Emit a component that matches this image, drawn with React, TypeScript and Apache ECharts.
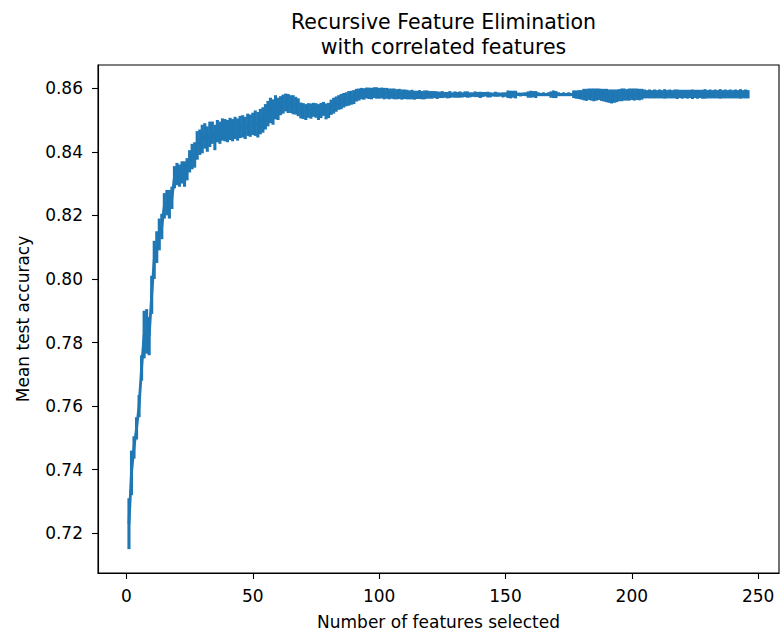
import React, { useEffect, useRef } from "react";
import * as echarts from "echarts";

// Mean test accuracy for 1..246 selected features
const meanAcc: number[] = [
  0.7230, 0.7390, 0.7470, 0.7530, 0.7600, 0.7720, 0.7825, 0.7835, 0.7820, 0.7950,
  0.8060, 0.8100, 0.8140, 0.8165, 0.8230, 0.8240, 0.8235, 0.8255, 0.8320, 0.8330,
  0.8325, 0.8335, 0.8330, 0.8345, 0.8370, 0.8385, 0.8390, 0.8420, 0.8430, 0.8440,
  0.8450, 0.8440, 0.8455, 0.8460, 0.8445, 0.8465, 0.8460, 0.8470, 0.8468, 0.8465,
  0.8472, 0.8468, 0.8475, 0.8470, 0.8478, 0.8480, 0.8475, 0.8485, 0.8482, 0.8488,
  0.8490, 0.8485, 0.8495, 0.8500, 0.8510, 0.8520, 0.8530, 0.8525, 0.8540, 0.8535,
  0.8545, 0.8550, 0.8555, 0.8552, 0.8550, 0.8548, 0.8545, 0.8540, 0.8530, 0.8528,
  0.8525, 0.8530, 0.8528, 0.8532, 0.8530, 0.8525, 0.8530, 0.8535, 0.8527, 0.8530,
  0.8540, 0.8545, 0.8550, 0.8555, 0.8558, 0.8562, 0.8565, 0.8568, 0.8570, 0.8572,
  0.8578, 0.8580, 0.8583, 0.8582, 0.8585, 0.8584, 0.8583, 0.8586, 0.8585, 0.8584,
  0.8585, 0.8583, 0.8584, 0.8582, 0.8583, 0.8582, 0.8581, 0.8582, 0.8580, 0.8581,
  0.8580, 0.8579, 0.8580, 0.8578, 0.8579, 0.8580, 0.8578, 0.8579, 0.8580, 0.8579,
  0.8579, 0.8580, 0.8578, 0.8579, 0.8580, 0.8579, 0.8578, 0.8580, 0.8579, 0.8580,
  0.8579, 0.8580, 0.8579, 0.8581, 0.8580, 0.8579, 0.8580, 0.8581, 0.8580, 0.8579,
  0.8580, 0.8581, 0.8580, 0.8579, 0.8580, 0.8581, 0.8580, 0.8580, 0.8579, 0.8580,
  0.8581, 0.8580, 0.8581, 0.8580, 0.8581, 0.8580, 0.8581, 0.8581, 0.8580, 0.8581,
  0.8581, 0.8580, 0.8581, 0.8580, 0.8581, 0.8580, 0.8581, 0.8580, 0.8581, 0.8580,
  0.8581, 0.8580, 0.8581, 0.8580, 0.8581, 0.8580, 0.8581, 0.8580, 0.8580, 0.8579,
  0.8580, 0.8579, 0.8581, 0.8580, 0.8579, 0.8580, 0.8581, 0.8579, 0.8578, 0.8577,
  0.8575, 0.8574, 0.8575, 0.8576, 0.8578, 0.8579, 0.8580, 0.8579, 0.8580, 0.8581,
  0.8580, 0.8581, 0.8580, 0.8581, 0.8582, 0.8581, 0.8582, 0.8581, 0.8582, 0.8581,
  0.8582, 0.8581, 0.8582, 0.8581, 0.8582, 0.8581, 0.8582, 0.8581, 0.8582, 0.8581,
  0.8582, 0.8581, 0.8582, 0.8581, 0.8582, 0.8581, 0.8582, 0.8581, 0.8582, 0.8581,
  0.8582, 0.8581, 0.8582, 0.8581, 0.8582, 0.8581, 0.8582, 0.8581, 0.8582, 0.8581,
  0.8582, 0.8581, 0.8582, 0.8581, 0.8582, 0.8581,
];

// Standard deviation (error bar half-length) for each point
const stdAcc: number[] = [
  0.0080, 0.0070, 0.0035, 0.0035, 0.0035, 0.0040, 0.0075, 0.0070, 0.0060, 0.0060,
  0.0060, 0.0050, 0.0050, 0.0040, 0.0040, 0.0040, 0.0045, 0.0035, 0.0035, 0.0035,
  0.0035, 0.0035, 0.0040, 0.0035, 0.0035, 0.0040, 0.0040, 0.0045, 0.0040, 0.0045,
  0.0040, 0.0040, 0.0040, 0.0035, 0.0040, 0.0035, 0.0035, 0.0035, 0.0035, 0.0035,
  0.0035, 0.0035, 0.0035, 0.0035, 0.0035, 0.0035, 0.0035, 0.0035, 0.0035, 0.0035,
  0.0040, 0.0040, 0.0040, 0.0040, 0.0040, 0.0040, 0.0040, 0.0040, 0.0038, 0.0035,
  0.0030, 0.0030, 0.0028, 0.0030, 0.0028, 0.0030, 0.0028, 0.0028, 0.0025, 0.0025,
  0.0025, 0.0023, 0.0024, 0.0022, 0.0023, 0.0025, 0.0024, 0.0022, 0.0025, 0.0024,
  0.0024, 0.0025, 0.0024, 0.0023, 0.0024, 0.0023, 0.0022, 0.0023, 0.0022, 0.0022,
  0.0020, 0.0019, 0.0018, 0.0018, 0.0017, 0.0018, 0.0018, 0.0017, 0.0018, 0.0017,
  0.0017, 0.0018, 0.0017, 0.0017, 0.0016, 0.0017, 0.0016, 0.0016, 0.0016, 0.0015,
  0.0015, 0.0014, 0.0015, 0.0014, 0.0013, 0.0014, 0.0013, 0.0014, 0.0013, 0.0012,
  0.0012, 0.0011, 0.0012, 0.0010, 0.0011, 0.0009, 0.0010, 0.0011, 0.0008, 0.0010,
  0.0009, 0.0010, 0.0008, 0.0009, 0.0010, 0.0008, 0.0007, 0.0009, 0.0008, 0.0010,
  0.0008, 0.0007, 0.0009, 0.0008, 0.0006, 0.0008, 0.0007, 0.0006, 0.0008, 0.0007,
  0.0012, 0.0012, 0.0011, 0.0012, 0.0005, 0.0006, 0.0005, 0.0006, 0.0010, 0.0011,
  0.0010, 0.0011, 0.0006, 0.0005, 0.0006, 0.0005, 0.0006, 0.0010, 0.0012, 0.0011,
  0.0006, 0.0005, 0.0006, 0.0005, 0.0006, 0.0005, 0.0012, 0.0013, 0.0014, 0.0015,
  0.0018, 0.0019, 0.0018, 0.0019, 0.0020, 0.0019, 0.0018, 0.0019, 0.0020, 0.0021,
  0.0021, 0.0022, 0.0021, 0.0020, 0.0019, 0.0020, 0.0019, 0.0018, 0.0019, 0.0018,
  0.0019, 0.0018, 0.0018, 0.0017, 0.0014, 0.0013, 0.0014, 0.0013, 0.0014, 0.0013,
  0.0014, 0.0013, 0.0015, 0.0013, 0.0014, 0.0013, 0.0014, 0.0015, 0.0013, 0.0014,
  0.0013, 0.0014, 0.0013, 0.0015, 0.0013, 0.0014, 0.0013, 0.0014, 0.0015, 0.0013,
  0.0014, 0.0013, 0.0014, 0.0013, 0.0015, 0.0013, 0.0014, 0.0013, 0.0014, 0.0013,
  0.0014, 0.0013, 0.0015, 0.0013, 0.0014, 0.0013,
];

// number of features selected: 1, 2, ..., 246
const featureCounts: number[] = meanAcc.map((_, i) => i + 1);

const xTicks: number[] = [0, 50, 100, 150, 200, 250];
const yTicks: number[] = [0.72, 0.74, 0.76, 0.78, 0.8, 0.82, 0.84, 0.86];

const FONT = "DejaVu Sans";
const BLUE = "#1f77b4";

export default function App() {
  const ref = useRef<HTMLDivElement>(null);

  useEffect(() => {
    if (!ref.current) return;
    const chart = echarts.init(ref.current, undefined, { renderer: "svg" });

    const errData = featureCounts.map((n, i) => [n, meanAcc[i], stdAcc[i]]);
    const lineData = featureCounts.map((n, i) => [n, meanAcc[i]]);

    chart.setOption({
      animation: false,
      backgroundColor: "#ffffff",
      title: {
        text: "Recursive Feature Elimination\nwith correlated features",
        left: 438.5,
        textAlign: "center",
        top: 5,
        textStyle: {
          fontFamily: FONT,
          fontSize: 20.5,
          fontWeight: "normal",
          color: "#000",
          lineHeight: 24.5,
        },
      },
      grid: {
        left: 98,
        top: 65,
        width: 681,
        height: 508,
        show: true,
        borderColor: "#000",
        borderWidth: 1.1,
        backgroundColor: "transparent",
      },
      xAxis: {
        type: "value",
        min: -11.25,
        max: 258.25,
        name: "Number of features selected",
        nameLocation: "middle",
        nameGap: 40,
        nameTextStyle: { fontFamily: FONT, fontSize: 17, color: "#000" },
        axisLine: { show: true, onZero: false, lineStyle: { color: "#000", width: 1.1 } },
        axisTick: {
          show: true,
          inside: false,
          length: 6,
          lineStyle: { color: "#000", width: 1.1 },
          customValues: xTicks,
        },
        axisLabel: {
          fontFamily: FONT,
          fontSize: 17,
          color: "#000",
          margin: 14,
          customValues: xTicks,
        },
        splitLine: { show: false },
      },
      yAxis: {
        type: "value",
        min: 0.7075,
        max: 0.8673,
        name: "Mean test accuracy",
        nameLocation: "middle",
        nameGap: 67,
        nameTextStyle: { fontFamily: FONT, fontSize: 17, color: "#000" },
        axisLine: { show: true, onZero: false, lineStyle: { color: "#000", width: 1.1 } },
        axisTick: {
          show: true,
          inside: false,
          length: 6,
          lineStyle: { color: "#000", width: 1.1 },
          customValues: yTicks,
        },
        axisLabel: {
          fontFamily: FONT,
          fontSize: 17,
          color: "#000",
          margin: 15,
          customValues: yTicks,
          formatter: (v: number) => v.toFixed(2),
        },
        splitLine: { show: false },
      },
      series: [
        {
          type: "custom",
          name: "std",
          data: errData,
          encode: { x: 0, y: 1 },
          clip: true,
          renderItem: (params: any, api: any) => {
            const x = api.value(0);
            const m = api.value(1);
            const e = api.value(2);
            const p1 = api.coord([x, m - e]);
            const p2 = api.coord([x, m + e]);
            return {
              type: "line",
              shape: { x1: p1[0], y1: p1[1], x2: p2[0], y2: p2[1] },
              style: { stroke: BLUE, lineWidth: 3.1 },
            };
          },
        },
        {
          type: "line",
          name: "mean",
          data: lineData,
          showSymbol: false,
          symbol: "none",
          lineStyle: { color: BLUE, width: 2.8 },
          z: 3,
        },
      ],
    });

    return () => chart.dispose();
  }, []);

  return (
    <div
      ref={ref}
      style={{ position: "fixed", left: 0, top: 0, width: 782, height: 637, background: "#fff" }}
    />
  );
}
